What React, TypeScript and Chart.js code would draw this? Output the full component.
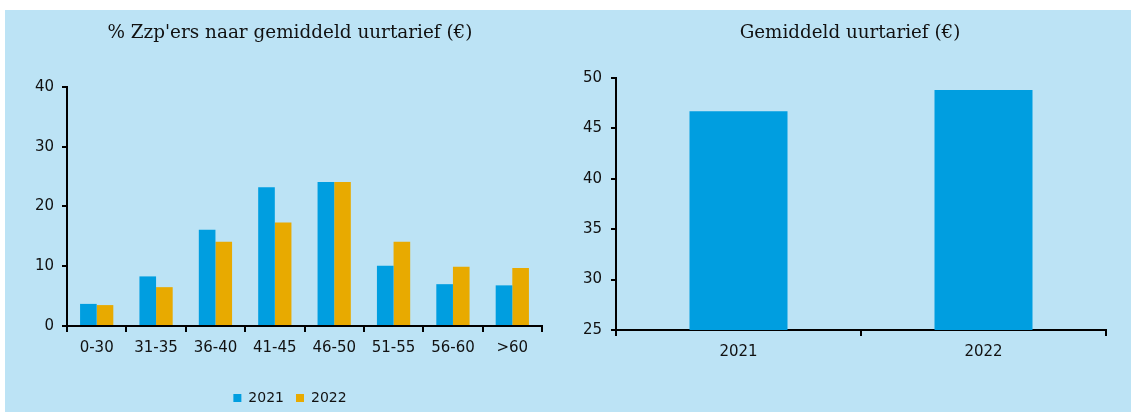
import React, { useEffect, useRef } from "react";
import { Chart, registerables } from "chart.js";

Chart.register(...registerables);

const leftCategories = ["0-30", "31-35", "36-40", "41-45", "46-50", "51-55", "56-60", ">60"];
const share2021 = [3.7, 8.3, 16.1, 23.2, 24.1, 10.1, 7.0, 6.8];
const share2022 = [3.5, 6.5, 14.1, 17.3, 24.1, 14.1, 9.9, 9.7];
const leftTitle = "% Zzp'ers naar gemiddeld uurtarief (€)";
const seriesLabels = ["2021", "2022"];

const rightCategories = ["2021", "2022"];
const avgRate = [46.7, 48.8];
const rightTitle = "Gemiddeld uurtarief (€)";

const BG = "#BCE3F5";
const BLUE = "#009EE0";
const GOLD = "#E8AA00";
const TEXT = "#111111";
const TICK_FONT = { family: "'DejaVu Sans', sans-serif", size: 15 };

// keep y tick labels from being clipped to the (narrow) scale box
const unclipY = {
  id: "unclipY",
  afterLayout(chart: any) {
    if (chart.scales.y) chart.scales.y.left = 0;
  },
};

function axisY(min: number, max: number, step: number, width: number, pad: number) {
  return {
    min,
    max,
    ticks: { stepSize: step, color: TEXT, font: TICK_FONT, padding: pad },
    grid: { drawOnChartArea: false, tickLength: 5, color: "#000", lineWidth: 2 },
    border: { display: true, color: "#000", width: 2 },
    afterFit: (s: any) => {
      s.width = width;
    },
  };
}

function axisX(height: number) {
  return {
    ticks: { color: TEXT, font: TICK_FONT, padding: 7, maxRotation: 0 },
    grid: { offset: true, drawOnChartArea: false, tickLength: 6, color: "#000", lineWidth: 2 },
    border: { display: true, color: "#000", width: 2 },
    afterFit: (s: any) => {
      s.height = height;
    },
  };
}

export default function App() {
  const leftRef = useRef<HTMLCanvasElement>(null);
  const rightRef = useRef<HTMLCanvasElement>(null);

  useEffect(() => {
    const left = new Chart(leftRef.current!, {
      type: "bar",
      data: {
        labels: leftCategories,
        datasets: [
          { label: seriesLabels[0], data: share2021, backgroundColor: BLUE, categoryPercentage: 0.56, barPercentage: 1 },
          { label: seriesLabels[1], data: share2022, backgroundColor: GOLD, categoryPercentage: 0.56, barPercentage: 1 },
        ],
      },
      plugins: [unclipY],
      options: {
        responsive: false,
        animation: false,
        layout: { padding: { left: 33, right: 18, top: 0, bottom: -3 } },
        plugins: {
          title: {
            display: true,
            text: leftTitle,
            color: TEXT,
            font: { family: "'DejaVu Serif', serif", size: 18.4, weight: "normal" },
            padding: { top: 12, bottom: 42.9 },
          },
          legend: {
            display: true,
            position: "bottom",
            labels: {
              boxWidth: 8,
              boxHeight: 8,
              padding: 12,
              color: TEXT,
              font: { family: "'DejaVu Sans', sans-serif", size: 14 },
            },
          },
          tooltip: { enabled: false },
        },
        scales: {
          x: axisX(53) as any,
          y: axisY(0, 40, 10, 29, 8) as any,
        },
      },
    });

    const right = new Chart(rightRef.current!, {
      type: "bar",
      data: {
        labels: rightCategories,
        datasets: [
          { label: "Gemiddeld uurtarief", data: avgRate, backgroundColor: BLUE, categoryPercentage: 0.4, barPercentage: 1 },
        ],
      },
      plugins: [unclipY],
      options: {
        responsive: false,
        animation: false,
        layout: { padding: { left: 34, right: 25, top: 0, bottom: 0 } },
        plugins: {
          title: {
            display: true,
            text: rightTitle,
            color: TEXT,
            font: { family: "'DejaVu Serif', serif", size: 18.3, weight: "normal" },
            padding: { top: 12, bottom: 34 },
          },
          legend: { display: false },
          tooltip: { enabled: false },
        },
        scales: {
          x: axisX(82) as any,
          y: axisY(25, 50, 5, 22, 9) as any,
        },
      },
    });

    return () => {
      left.destroy();
      right.destroy();
    };
  }, []);

  return (
    <div
      style={{
        position: "absolute",
        left: 5,
        top: 10,
        width: 1126,
        height: 402,
        background: BG,
        overflow: "hidden",
      }}
    >
      <canvas ref={leftRef} width={555} height={402} style={{ position: "absolute", left: 0, top: 0 }} />
      <canvas ref={rightRef} width={571} height={402} style={{ position: "absolute", left: 555, top: 0 }} />
    </div>
  );
}
